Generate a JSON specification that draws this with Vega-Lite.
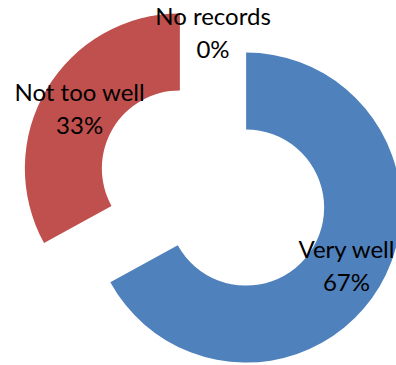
{
  "$schema": "https://vega.github.io/schema/vega-lite/v6.json",
  "width": 426,
  "height": 376,
  "autosize": {"type": "none"},
  "padding": 0,
  "background": "white",
  "view": {"stroke": null},
  "data": {
    "values": [
      {"cat": "Very well", "share": 0.67, "rank": 1},
      {"cat": "Not too well", "share": 0.33, "rank": 2},
      {"cat": "No records", "share": 0, "rank": 3}
    ]
  },
  "encoding": {
    "theta": {"field": "share", "type": "quantitative", "stack": true},
    "order": {"field": "rank", "type": "quantitative"}
  },
  "layer": [
    {
      "mark": {
        "type": "arc",
        "radius": 155,
        "radius2": 78,
        "xOffset": {"expr": "38.5*sin(PI*(datum.share_start+datum.share_end))"},
        "yOffset": {"expr": "-38.5*cos(PI*(datum.share_start+datum.share_end))"}
      },
      "encoding": {
        "color": {
          "field": "cat",
          "type": "nominal",
          "scale": {"domain": ["Very well", "Not too well", "No records"], "range": ["#4F81BD", "#C0504D", "#9BBB59"]},
          "legend": null
        }
      }
    },
    {
      "mark": {
        "type": "text",
        "radius": 116.5,
        "font": "Lato",
        "fontSize": 24,
        "color": "black",
        "baseline": "middle",
        "align": "center",
        "dy": -15.5,
        "xOffset": {"expr": "38.5*sin(PI*(datum.share_start+datum.share_end))"},
        "yOffset": {"expr": "-38.5*cos(PI*(datum.share_start+datum.share_end))"}
      },
      "encoding": {"text": {"field": "cat", "type": "nominal"}}
    },
    {
      "mark": {
        "type": "text",
        "radius": 116.5,
        "font": "Lato",
        "fontSize": 24,
        "color": "black",
        "baseline": "middle",
        "align": "center",
        "dy": 17.5,
        "xOffset": {"expr": "38.5*sin(PI*(datum.share_start+datum.share_end))"},
        "yOffset": {"expr": "-38.5*cos(PI*(datum.share_start+datum.share_end))"}
      },
      "encoding": {"text": {"field": "share", "type": "quantitative", "format": ".0%"}}
    }
  ]
}
